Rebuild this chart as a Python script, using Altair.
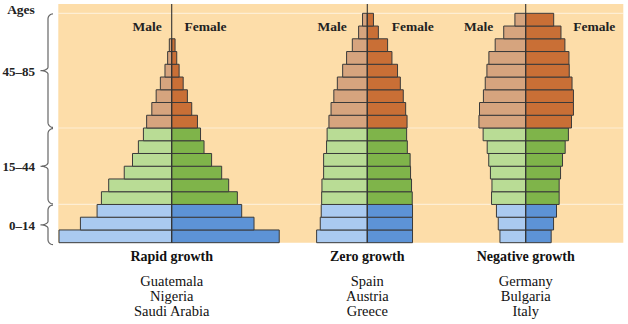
import altair as alt
import pandas as pd
import numpy as np

# ---------------- data ----------------
age_start = list(range(0, 90, 5))          # 0-4 ... 85-89 (18 groups)
panel_titles = ["Rapid growth", "Zero growth", "Negative growth"]
panel_countries = [["Guatemala", "Nigeria", "Saudi Arabia"],
                   ["Spain", "Austria", "Greece"],
                   ["Germany", "Bulgaria", "Italy"]]

# share of population (%) per 5-year group, youngest first
rapid_male = [8.05, 6.52, 5.33, 5.02, 4.50, 3.39, 2.80, 2.38, 2.02, 1.79, 1.42, 1.11, 0.81, 0.48, 0.29, 0.17, 0, 0]
rapid_female = [7.68, 5.88, 5.00, 4.69, 4.07, 3.57, 2.85, 2.31, 2.06, 1.84, 1.43, 1.12, 0.82, 0.53, 0.36, 0.24, 0, 0]
zero_male = [3.62, 3.36, 3.29, 3.26, 3.24, 3.12, 3.12, 2.91, 2.87, 2.74, 2.59, 2.39, 2.14, 1.76, 1.48, 1.07, 0.62, 0.34]
zero_female = [3.23, 3.23, 3.23, 3.21, 3.16, 3.09, 3.06, 2.86, 2.81, 2.84, 2.74, 2.57, 2.36, 2.16, 1.76, 1.45, 0.79, 0.44]
neg_male = [1.84, 1.96, 2.09, 2.44, 2.41, 2.52, 2.64, 2.75, 3.04, 3.34, 3.30, 3.02, 2.89, 2.77, 2.63, 2.18, 1.57, 0.77]
neg_female = [1.82, 1.99, 2.20, 2.39, 2.39, 2.49, 2.63, 2.82, 3.05, 3.27, 3.41, 3.41, 3.31, 3.11, 3.09, 2.80, 2.52, 2.00]

age_bands = [(0, 15, "0\u201314"), (15, 45, "15\u201344"), (45, 90, "45\u201385")]

# ---------------- layout ----------------
W, H = 628, 324
PX_PER_PCT = 14.0
centers_px = [171.7, 367.3, 525.7]
Y0, PXY = 242.7, 229.4 / 90.0
FONT = "Liberation Serif"

def age_at(py):
    return (Y0 - py) / PXY

def pct_at(px):
    return px / PX_PER_PCT

centers = [pct_at(c) for c in centers_px]

x_scale = alt.Scale(domain=[0, W / PX_PER_PCT], nice=False, zero=False)
y_scale = alt.Scale(domain=[age_at(H), age_at(0)], nice=False, zero=False)

def band_of(a):
    return "young" if a < 15 else ("adult" if a < 45 else "old")

color_keys = ["old-M", "old-F", "adult-M", "adult-F", "young-M", "young-F"]
color_vals = ["#D6A47E", "#C96F36", "#B9DC95", "#7FB44A", "#AACAF0", "#5D93D6"]

# bars
rows = []
series = [(rapid_male, rapid_female), (zero_male, zero_female), (neg_male, neg_female)]
for p, (males, females) in enumerate(series):
    c = centers[p]
    for a, m, f in zip(age_start, males, females):
        if m > 0:
            rows.append(dict(x=c - m, x2=c, y=a, y2=a + 5, key=band_of(a) + "-M"))
        if f > 0:
            rows.append(dict(x=c, x2=c + f, y=a, y2=a + 5, key=band_of(a) + "-F"))
bars_df = pd.DataFrame(rows)

bg_left, bg_right = pct_at(58.3), pct_at(623.3)
bg_top = age_at(4)
bg_df = pd.DataFrame([dict(x=bg_left, x2=bg_right, y=0, y2=bg_top)])
grid_df = pd.DataFrame([dict(x=bg_left, x2=bg_right, y=v) for v in [15, 45, 90]])
center_df = pd.DataFrame([dict(x=c, y=0, y2=bg_top) for c in centers])

X = lambda: alt.X("x:Q", scale=x_scale, axis=None)
Y = lambda: alt.Y("y:Q", scale=y_scale, axis=None)

bg = alt.Chart(bg_df).mark_rect(color="#FDDDA9").encode(
    x=X(), x2="x2:Q", y=Y(), y2="y2:Q")
grid = alt.Chart(grid_df).mark_rule(color="white", strokeWidth=1.2, opacity=0.5).encode(
    x=X(), x2="x2:Q", y=Y())
bars = alt.Chart(bars_df).mark_rect(stroke="#3a3a3a", strokeWidth=1).encode(
    x=X(), x2="x2:Q", y=Y(), y2="y2:Q",
    color=alt.Color("key:N", scale=alt.Scale(domain=color_keys, range=color_vals), legend=None))
centre_lines = alt.Chart(center_df).mark_rule(color="#333333", strokeWidth=1.1).encode(
    x=X(), y=Y(), y2="y2:Q")

# Male / Female labels
male_off_px = [-10.0, -20.6, -32.4]
female_off_px = [12.7, 24.4, 47.6]
mf_y = age_at(27)
male_df = pd.DataFrame([dict(x=centers[i] + pct_at(male_off_px[i]), y=mf_y, t="Male") for i in range(3)])
female_df = pd.DataFrame([dict(x=centers[i] + pct_at(female_off_px[i]), y=mf_y, t="Female") for i in range(3)])
male_txt = alt.Chart(male_df).mark_text(font=FONT, fontSize=13.5, fontWeight="bold", align="right",
                                        baseline="middle", color="#222222").encode(x=X(), y=Y(), text="t:N")
female_txt = alt.Chart(female_df).mark_text(font=FONT, fontSize=13.5, fontWeight="bold", align="left",
                                            baseline="middle", color="#222222").encode(x=X(), y=Y(), text="t:N")

# panel titles and country lists
title_df = pd.DataFrame([dict(x=centers[i], y=age_at(257), t=panel_titles[i]) for i in range(3)])
country_rows = []
for i in range(3):
    for j, name in enumerate(panel_countries[i]):
        country_rows.append(dict(x=centers[i], y=age_at(282 + 15 * j), t=name))
country_df = pd.DataFrame(country_rows)
title_txt = alt.Chart(title_df).mark_text(font=FONT, fontSize=14, fontWeight="bold", align="center",
                                          baseline="middle", color="#111111").encode(x=X(), y=Y(), text="t:N")
country_txt = alt.Chart(country_df).mark_text(font=FONT, fontSize=14.5, align="center",
                                              baseline="middle", color="#111111").encode(x=X(), y=Y(), text="t:N")

# braces on the left
def brace(y_top, y_bot, x_end=53.0, x_stem=48.0, x_tip=40.5, r=5.0, tip_h=3.5):
    ym = (y_top + y_bot) / 2
    t = np.linspace(0, np.pi / 2, 9)
    dx, dt = x_end - x_stem, x_stem - x_tip
    pts = []
    pts += list(zip(x_end - dx * np.sin(t), y_top + r - r * np.cos(t)))
    pts += list(zip(x_tip + dt * np.cos(t), ym - tip_h + tip_h * np.sin(t)))
    pts += list(zip(x_tip + dt * np.sin(t), ym + tip_h - tip_h * np.cos(t)))
    pts += list(zip(x_stem + dx * (1 - np.cos(t)), y_bot - r + r * np.sin(t)))
    return pts, ym

brace_rows, label_rows = [], []
for b, (lo, hi, lab) in enumerate(age_bands):
    y_top = Y0 - hi * PXY + 0.6
    y_bot = Y0 - lo * PXY - 0.6 + (2.5 if lo == 0 else 0)
    pts, ym = brace(y_top, y_bot)
    for k, (px, py) in enumerate(pts):
        brace_rows.append(dict(x=pct_at(px), y=age_at(py), b=b, i=k))
    label_rows.append(dict(x=pct_at(35), y=age_at(ym + 1), t=lab))
brace_df = pd.DataFrame(brace_rows)
label_df = pd.DataFrame(label_rows)

braces = alt.Chart(brace_df).mark_line(color="#666666", strokeWidth=1.2).encode(
    x=X(), y=Y(), detail="b:N", order="i:Q")
band_txt = alt.Chart(label_df).mark_text(font=FONT, fontSize=13, fontWeight="bold", align="right",
                                         baseline="middle", color="#222222").encode(x=X(), y=Y(), text="t:N")
ages_txt = alt.Chart(pd.DataFrame([dict(x=pct_at(21), y=age_at(9.5), t="Ages")])).mark_text(
    font=FONT, fontSize=13.5, fontWeight="bold", align="center", baseline="middle", color="#222222"
).encode(x=X(), y=Y(), text="t:N")

chart = alt.layer(
    bg, grid, bars, centre_lines, male_txt, female_txt, title_txt, country_txt, braces, band_txt, ages_txt
).properties(
    width=W, height=H, autosize=alt.AutoSizeParams(type="none"), padding=0, background="white"
).configure_view(stroke=None)

chart.save("out.html", embed_options={"renderer": "svg", "actions": False})
